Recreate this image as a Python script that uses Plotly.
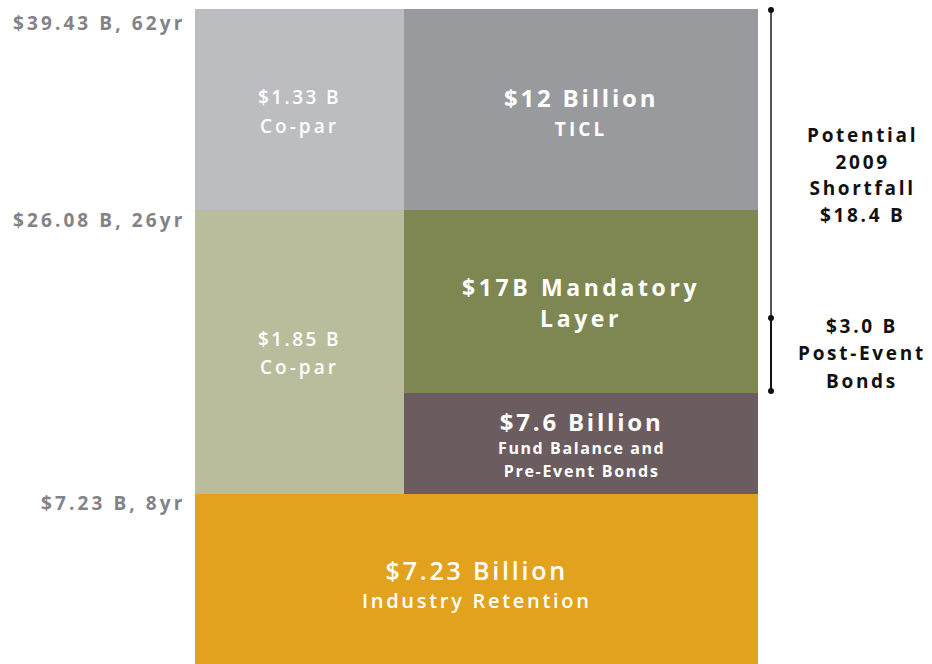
import plotly.graph_objects as go

# ---- data (schematic layer diagram) ----
block_names = ["Industry Retention", "Fund Balance and Pre-Event Bonds", "Mandatory Layer",
               "TICL", "Co-par (lower)", "Co-par (upper)"]
block_colors = ["#e2a21e", "#6b5c5f", "#7e8752", "#989a9d", "#b9bd9c", "#bcbdc1"]
# schematic extents (chart units)
block_x0 = [0, 209, 209, 209, 0, 0]
block_x1 = [563, 563, 563, 563, 209, 209]
block_y0 = [0, 170, 271, 454, 170, 454]
block_y1 = [170, 271, 454, 655, 454, 655]

level_labels = ["$7.23 B, 8yr", "$26.08 B, 26yr", "$39.43 B, 62yr"]
level_label_y = [161.5, 444, 641.5]

# block texts: (lines as (text, size, letter-spacing), weight, centre column, centre y, base size)
block_texts = [
    ([("$7.23 Billion", 25, 2.8), ("Industry Retention", 20, 2.7)], 600, 0, 81, 21.5),
    ([("$7.6 Billion", 24, 2.8), ("Fund Balance and", 16, 1.6), ("Pre-Event Bonds", 16, 1.7)], 700, 1, 220.5, 17.5),
    ([("$17B Mandatory", 23, 3.6), ("Layer", 23, 3.6)], 700, 1, 361.5, 23.5),
    ([("$12 Billion", 24, 2.8), ("TICL", 19, 3.1)], 700, 1, 552.5, 22.3),
    ([("$1.85 B", 19, 2.4), ("Co-par", 19, 3.0)], 600, 2, 311, 21.5),
    ([("$1.33 B", 19, 2.4), ("Co-par", 19, 3.0)], 600, 2, 552.5, 22.3),
]
text_cols_x = [281.5, 386, 104.5]  # centres: full width, right column, left column

bracket_x = 576
bracket_top, bracket_mid, bracket_bot = 654, 346, 273
side_groups = [
    (["Potential", "2009", "Shortfall", "$18.4 B"], 489, 20.5),
    (["$3.0 B", "Post-Event", "Bonds"], 310.5, 21),
]
side_text_x = 667

FONT = "Open Sans"


def spaced(txt, size, ls):
    return f'<span style="font-size:{size}px;letter-spacing:{ls}px">{txt}</span>'


fig = go.Figure()
for n, c, x0, x1, y0, y1 in zip(block_names, block_colors, block_x0, block_x1, block_y0, block_y1):
    fig.add_trace(go.Bar(
        x=[(x0 + x1) / 2], y=[y1 - y0], base=[y0], width=[x1 - x0],
        marker=dict(color=c, line=dict(width=0)), name=n, showlegend=False,
        hoverinfo="name",
    ))

# bracket
fig.add_trace(go.Scatter(x=[bracket_x, bracket_x], y=[bracket_top, bracket_mid], mode="lines",
                         line=dict(color="#555555", width=2), showlegend=False, hoverinfo="skip"))
fig.add_trace(go.Scatter(x=[bracket_x, bracket_x], y=[bracket_mid, bracket_bot], mode="lines",
                         line=dict(color="#111111", width=2), showlegend=False, hoverinfo="skip"))
fig.add_trace(go.Scatter(x=[bracket_x] * 3, y=[bracket_top, bracket_mid, bracket_bot], mode="markers",
                         marker=dict(color="#111111", size=6), showlegend=False, hoverinfo="skip"))

annotations = []
for lines, weight, col, y, base in block_texts:
    txt = "<br>".join(spaced(t, s, ls) for t, s, ls in lines)
    annotations.append(dict(x=text_cols_x[col], y=y, xref="x", yref="y", text=txt, showarrow=False,
                            xanchor="center", yanchor="middle",
                            font=dict(family=FONT, size=base, color="white", weight=weight)))
for lab, y in zip(level_labels, level_label_y):
    annotations.append(dict(x=0, y=y, xref="x", yref="y", text=spaced(lab, 19, 3.1), showarrow=False,
                            xanchor="right", yanchor="middle", xshift=-8,
                            font=dict(family=FONT, size=19, color="#838387", weight=700)))
for lines, y, base in side_groups:
    txt = "<br>".join(spaced(t, 19, 2.7) for t in lines)
    annotations.append(dict(x=side_text_x, y=y, xref="x", yref="y", text=txt, showarrow=False,
                            xanchor="center", yanchor="middle",
                            font=dict(family=FONT, size=base, color="#111111", weight=700)))

fig.update_layout(
    width=932, height=664,
    margin=dict(l=195, r=0, t=0, b=0),
    paper_bgcolor="white", plot_bgcolor="white",
    barmode="overlay", bargap=0,
    xaxis=dict(range=[0, 737], visible=False, fixedrange=True),
    yaxis=dict(range=[0, 664], visible=False, fixedrange=True),
    annotations=annotations,
)
fig.write_html("out.html", config={"displayModeBar": False},
               post_script="document.body.style.margin='0px';document.body.style.overflow='hidden';")
